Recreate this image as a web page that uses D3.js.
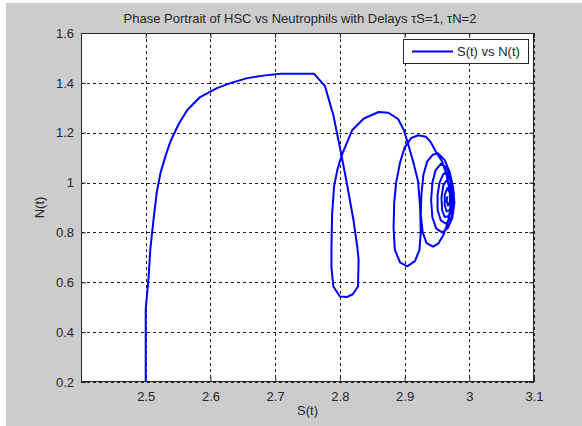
<!DOCTYPE html>
<html>
<head>
<meta charset="utf-8">
<script src="https://cdn.jsdelivr.net/npm/d3@7"></script>
<style>
body { margin: 0; background: #fff; }
svg { display: block; font-family: Arial, "Liberation Sans", sans-serif; }
</style>
</head>
<body>
<svg id="chart" width="582" height="426"></svg>
<script>
var sVals = [2.500, 2.500, 2.502, 2.5045, 2.507, 2.512, 2.517, 2.523, 2.531, 2.539,
  2.551, 2.564, 2.584, 2.610, 2.632, 2.657, 2.685, 2.708, 2.760, 2.777,
  2.790, 2.797, 2.803, 2.812, 2.821, 2.827, 2.829, 2.828, 2.820, 2.811,
  2.800, 2.790, 2.787, 2.787, 2.788, 2.791, 2.796, 2.803, 2.819, 2.837,
  2.860, 2.875, 2.890, 2.899, 2.906, 2.914, 2.921, 2.924, 2.925, 2.923,
  2.916, 2.904, 2.893, 2.885, 2.883, 2.884, 2.887, 2.893, 2.900, 2.910,
  2.921, 2.933, 2.941, 2.948, 2.958, 2.965, 2.970, 2.971, 2.967, 2.960,
  2.952, 2.944, 2.934, 2.928, 2.925, 2.926, 2.929, 2.935, 2.944, 2.952,
  2.962, 2.970, 2.975, 2.977, 2.974, 2.967, 2.958, 2.949, 2.943, 2.941,
  2.943, 2.948, 2.956, 2.964, 2.971, 2.976, 2.976, 2.972, 2.964, 2.956,
  2.951, 2.951, 2.954, 2.960, 2.966, 2.972, 2.975, 2.974, 2.969, 2.962,
  2.958, 2.957, 2.960, 2.966, 2.971, 2.973, 2.970, 2.965, 2.962, 2.962,
  2.966, 2.970, 2.970, 2.967, 2.965, 2.966];
var nVals = [0.200, 0.490, 0.550, 0.620, 0.730, 0.850, 0.960, 1.040, 1.110, 1.170,
  1.235, 1.290, 1.343, 1.379, 1.400, 1.419, 1.430, 1.437, 1.437, 1.387,
  1.270, 1.180, 1.103, 0.980, 0.850, 0.740, 0.690, 0.583, 0.552, 0.541,
  0.543, 0.583, 0.660, 0.743, 0.870, 0.983, 1.050, 1.110, 1.210, 1.257,
  1.283, 1.280, 1.255, 1.210, 1.150, 1.077, 1.003, 0.900, 0.800, 0.730,
  0.685, 0.664, 0.680, 0.730, 0.820, 0.920, 1.000, 1.080, 1.140, 1.178,
  1.190, 1.184, 1.160, 1.125, 1.085, 1.030, 0.965, 0.900, 0.840, 0.790,
  0.755, 0.743, 0.757, 0.800, 0.870, 0.950, 1.030, 1.085, 1.113, 1.117,
  1.090, 1.040, 0.980, 0.920, 0.860, 0.818, 0.800, 0.815, 0.860, 0.930,
  1.000, 1.050, 1.075, 1.062, 1.020, 0.960, 0.900, 0.858, 0.835, 0.848,
  0.890, 0.950, 1.000, 1.035, 1.036, 1.000, 0.950, 0.900, 0.866, 0.862,
  0.890, 0.940, 0.990, 1.012, 0.985, 0.935, 0.892, 0.884, 0.910, 0.950,
  0.978, 0.958, 0.922, 0.908, 0.928, 0.945];

var xTicks = [2.5, 2.6, 2.7, 2.8, 2.9, 3.0, 3.1];
var yTicks = [0.2, 0.4, 0.6, 0.8, 1.0, 1.2, 1.4, 1.6];
var titleText = "Phase Portrait of HSC vs Neutrophils with Delays \u03c4S=1, \u03c4N=2";
var legendLabel = "S(t) vs N(t)";

var box = {left: 81, top: 33, right: 534, bottom: 382};

var svg = d3.select("#chart");

// grey figure background
svg.append("rect")
    .attr("x", 6).attr("y", 3)
    .attr("width", 576).attr("height", 423)
    .attr("fill", "#cccccc");

var x = d3.scaleLinear().domain([2.4, 3.1]).range([box.left, box.right]);
var y = d3.scaleLinear().domain([0.2, 1.6]).range([box.bottom, box.top]);

svg.append("rect")
    .attr("x", box.left).attr("y", box.top)
    .attr("width", box.right - box.left).attr("height", box.bottom - box.top)
    .attr("fill", "#fff");

// grid
var grid = svg.append("g").attr("stroke", "#222").attr("stroke-dasharray", "3,3").attr("stroke-width", 1);
xTicks.forEach(function(t) {
    grid.append("line")
        .attr("x1", Math.round(x(t)) + 0.5).attr("x2", Math.round(x(t)) + 0.5)
        .attr("y1", box.top).attr("y2", box.bottom);
});
yTicks.forEach(function(t) {
    grid.append("line")
        .attr("y1", Math.round(y(t)) + 0.5).attr("y2", Math.round(y(t)) + 0.5)
        .attr("x1", box.left).attr("x2", box.right);
});

// axes
var fmt = function(d) { return String(+d.toFixed(1)); };

var xAxis = svg.append("g")
    .attr("transform", "translate(0," + box.bottom + ")")
    .call(d3.axisBottom(x).tickValues(xTicks).tickSize(-5).tickPadding(10).tickFormat(fmt));
var xTop = svg.append("g")
    .attr("transform", "translate(0," + box.top + ")")
    .call(d3.axisTop(x).tickValues(xTicks).tickSize(-5).tickFormat(""));
var yAxis = svg.append("g")
    .attr("transform", "translate(" + box.left + ",0)")
    .call(d3.axisLeft(y).tickValues(yTicks).tickSize(-5).tickPadding(7).tickFormat(fmt));
var yRight = svg.append("g")
    .attr("transform", "translate(" + box.right + ",0)")
    .call(d3.axisRight(y).tickValues(yTicks).tickSize(-5).tickFormat(""));

[xAxis, xTop, yAxis, yRight].forEach(function(a) {
    a.select(".domain").remove();
    a.selectAll(".tick line").attr("stroke", "#262626");
    a.selectAll(".tick text").attr("fill", "#262626").attr("font-size", "13px")
        .attr("font-family", "Arial, 'Liberation Sans', sans-serif");
});

// box
svg.append("rect")
    .attr("x", box.left + 0.5).attr("y", box.top + 0.5)
    .attr("width", box.right - box.left - 1).attr("height", box.bottom - box.top - 1)
    .attr("fill", "none").attr("stroke", "#262626").attr("stroke-width", 1);

// trajectory
var pts = sVals.map(function(s, i) { return [s, nVals[i]]; });
var line = d3.line()
    .x(function(d) { return x(d[0]); })
    .y(function(d) { return y(d[1]); });

svg.append("path")
    .datum(pts)
    .attr("d", line)
    .attr("fill", "none")
    .attr("stroke", "#0000ff")
    .attr("stroke-width", 2)
    .attr("stroke-linejoin", "round");

// title and labels
svg.append("text")
    .attr("x", 300).attr("y", 23)
    .attr("text-anchor", "middle")
    .attr("font-size", "13px").attr("fill", "#262626")
    .text(titleText);

svg.append("text")
    .attr("x", (box.left + box.right) / 2).attr("y", 415)
    .attr("text-anchor", "middle")
    .attr("font-size", "13px").attr("fill", "#262626")
    .text("S(t)");

svg.append("text")
    .attr("transform", "translate(44," + (box.top + box.bottom) / 2 + ") rotate(-90)")
    .attr("text-anchor", "middle")
    .attr("font-size", "13px").attr("fill", "#262626")
    .text("N(t)");

// legend
var lg = svg.append("g").attr("transform", "translate(403,39)");
lg.append("rect")
    .attr("x", 0.5).attr("y", 0.5)
    .attr("width", 125).attr("height", 24)
    .attr("fill", "#fff").attr("stroke", "#262626");
lg.append("line")
    .attr("x1", 9).attr("x2", 50)
    .attr("y1", 12.5).attr("y2", 12.5)
    .attr("stroke", "#0000ff").attr("stroke-width", 2);
lg.append("text")
    .attr("x", 54).attr("y", 17)
    .attr("font-size", "13px").attr("fill", "#262626")
    .text(legendLabel);
</script>
</body>
</html>
